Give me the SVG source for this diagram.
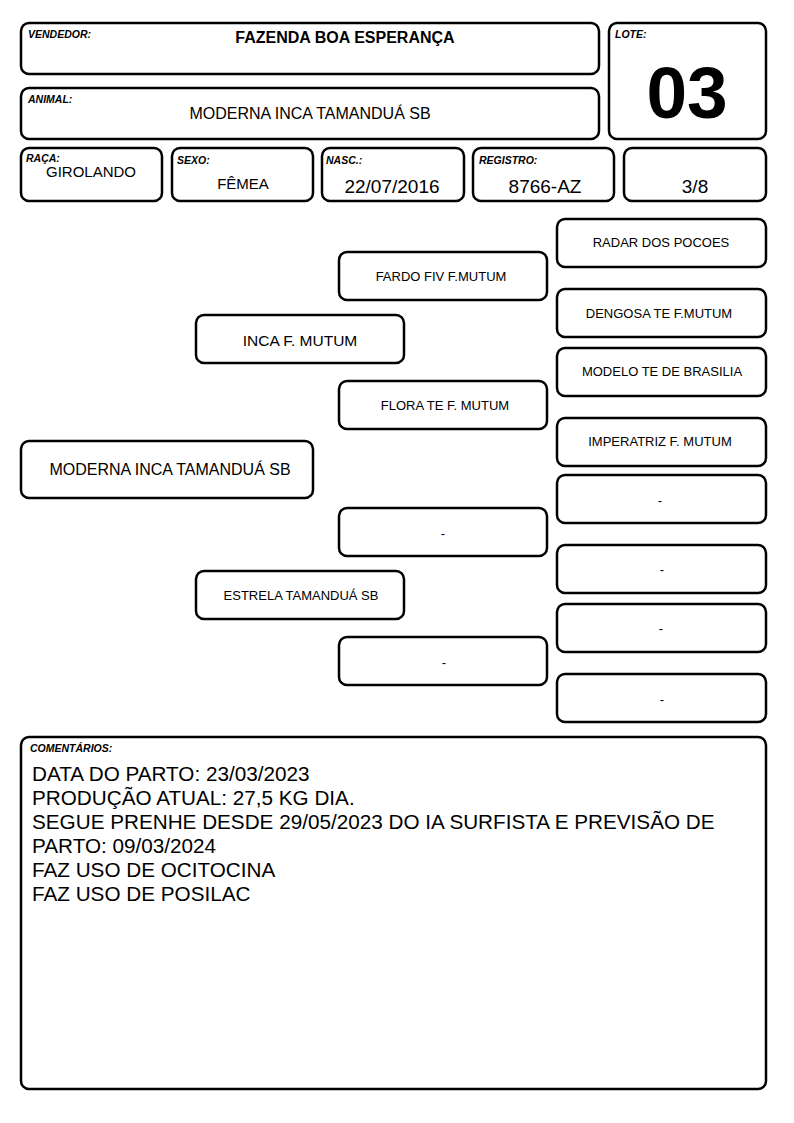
<svg xmlns="http://www.w3.org/2000/svg" width="794" height="1123" viewBox="0 0 794 1123">
<style>
.b{fill:#fff;stroke:#000;stroke-width:2.5}
.t{font-family:"Liberation Sans",Arial,sans-serif;fill:#000}
.lb{font-family:"Liberation Sans",Arial,sans-serif;font-weight:bold;font-style:italic;font-size:10.5px;fill:#000}
.c{text-anchor:middle}
.s12{font-size:13px}
.s16{font-size:16px}
.s19{font-size:19px}
.cm{font-size:20.7px}
</style>
<rect width="794" height="1123" fill="#fff"/>
<g id="vendedor"><rect class="b" x="21" y="23" width="578" height="51" rx="8"/><text class="lb" x="28" y="38">VENDEDOR:</text><text class="t c" x="345" y="43" font-size="16" font-weight="bold">FAZENDA BOA ESPERANÇA</text></g>
<g id="animal"><rect class="b" x="21" y="88" width="578" height="51" rx="8"/><text class="lb" x="28" y="103">ANIMAL:</text><text class="t c" x="310" y="119" font-size="16">MODERNA INCA TAMANDUÁ SB</text></g>
<g id="lote"><rect class="b" x="609" y="23" width="157" height="116" rx="8"/><text class="lb" x="615" y="38">LOTE:</text><text class="t c" x="687" y="118" font-size="73" font-weight="bold">03</text></g>
<g id="raca"><rect class="b" x="21" y="148" width="141" height="53" rx="8"/><text class="lb" x="26" y="162">RAÇA:</text><text class="t c" x="91" y="177" font-size="15">GIROLANDO</text></g>
<g id="sexo"><rect class="b" x="172" y="148" width="141" height="53" rx="8"/><text class="lb" x="177" y="164">SEXO:</text><text class="t c" x="243" y="189" font-size="15">FÊMEA</text></g>
<g id="nasc"><rect class="b" x="322" y="148" width="142" height="53" rx="8"/><text class="lb" x="326" y="164">NASC.:</text><text class="t c s19" x="392" y="193">22/07/2016</text></g>
<g id="registro"><rect class="b" x="473" y="148" width="141" height="53" rx="8"/><text class="lb" x="479" y="164">REGISTRO:</text><text class="t c s19" x="545" y="193">8766-AZ</text></g>
<g id="fracao"><rect class="b" x="624" y="148" width="142" height="53" rx="8"/><text class="t c s19" x="695" y="193">3/8</text></g>
<g id="connectors"></g>
<g id="n-moderna"><rect class="b" x="21" y="441" width="292" height="57" rx="8"/><text class="t c s16" x="170" y="475">MODERNA INCA TAMANDUÁ SB</text></g>
<g id="n-inca"><rect class="b" x="196" y="315" width="208" height="48" rx="8"/><text class="t c" x="300" y="346" font-size="15.5">INCA F. MUTUM</text></g>
<g id="n-estrela"><rect class="b" x="196" y="571" width="208" height="48" rx="8"/><text class="t c s12" x="301" y="600">ESTRELA TAMANDUÁ SB</text></g>
<g id="n-fardo"><rect class="b" x="339" y="252" width="208" height="48" rx="8"/><text class="t c s12" x="441" y="281">FARDO FIV F.MUTUM</text></g>
<g id="n-flora"><rect class="b" x="339" y="381" width="208" height="48" rx="8"/><text class="t c s12" x="445" y="410">FLORA TE F. MUTUM</text></g>
<g id="n-mae2a"><rect class="b" x="339" y="508" width="208" height="48" rx="8"/><text class="t c s12" x="443" y="538">-</text></g>
<g id="n-mae2b"><rect class="b" x="339" y="637" width="208" height="48" rx="8"/><text class="t c s12" x="444" y="667">-</text></g>
<g id="n-radar"><rect class="b" x="557" y="219" width="209" height="48" rx="8"/><text class="t c s12" x="661" y="247">RADAR DOS POCOES</text></g>
<g id="n-dengosa"><rect class="b" x="557" y="289" width="209" height="48" rx="8"/><text class="t c s12" x="659" y="318">DENGOSA TE F.MUTUM</text></g>
<g id="n-modelo"><rect class="b" x="557" y="348" width="209" height="48" rx="8"/><text class="t c s12" x="662" y="376">MODELO TE DE BRASILIA</text></g>
<g id="n-imperatriz"><rect class="b" x="557" y="418" width="209" height="48" rx="8"/><text class="t c s12" x="660" y="446">IMPERATRIZ F. MUTUM</text></g>
<g id="n-a"><rect class="b" x="557" y="475" width="209" height="48" rx="8"/><text class="t c s12" x="660" y="505">-</text></g>
<g id="n-b"><rect class="b" x="557" y="545" width="209" height="48" rx="8"/><text class="t c s12" x="662" y="574">-</text></g>
<g id="n-c"><rect class="b" x="557" y="604" width="209" height="48" rx="8"/><text class="t c s12" x="661" y="633">-</text></g>
<g id="n-d"><rect class="b" x="557" y="674" width="209" height="48" rx="8"/><text class="t c s12" x="662" y="704">-</text></g>
<g id="comentarios"><rect class="b" x="21" y="737" width="745" height="352" rx="8"/><text class="lb" x="30" y="752">COMENTÁRIOS:</text>
<text class="t cm" x="32" y="781">DATA DO PARTO: 23/03/2023</text>
<text class="t cm" x="32" y="805">PRODUÇÃO ATUAL: 27,5 KG DIA.</text>
<text class="t cm" x="32" y="829">SEGUE PRENHE DESDE 29/05/2023 DO IA SURFISTA E PREVISÃO DE</text>
<text class="t cm" x="32" y="853">PARTO: 09/03/2024</text>
<text class="t cm" x="32" y="877">FAZ USO DE OCITOCINA</text>
<text class="t cm" x="32" y="901">FAZ USO DE POSILAC</text>
</g>
</svg>
